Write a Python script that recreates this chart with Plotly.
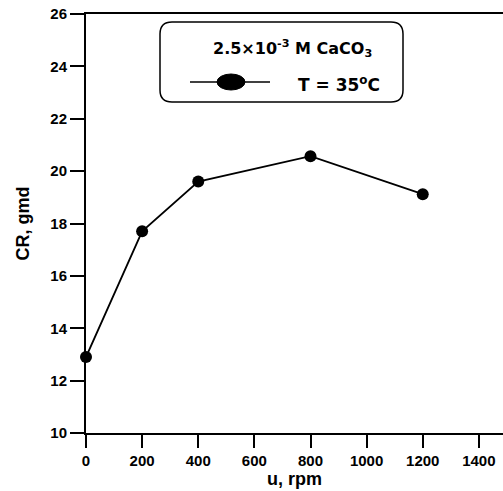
import plotly.graph_objects as go

speed_rpm = [0, 200, 400, 800, 1200]
cr_gmd = [12.9, 17.7, 19.6, 20.57, 19.12]
x_ticks = [0, 200, 400, 600, 800, 1000, 1200, 1400]
y_ticks = [10, 12, 14, 16, 18, 20, 22, 24, 26]

W, H = 503, 491
L, R, T, B = 86, 0, 14, 58
PW, PH = W - L - R, H - T - B

def px(x):
    return (x - L) / PW

def py(y):
    return (H - B - y) / PH

fig = go.Figure()
fig.add_trace(go.Scatter(
    x=speed_rpm, y=cr_gmd, mode="lines+markers",
    line=dict(color="black", width=1.8),
    marker=dict(color="black", size=12),
    showlegend=False, cliponaxis=False,
))

font = "Liberation Sans, Arial, sans-serif"
wide = "DejaVu Sans, Verdana, sans-serif"
axis_common = dict(
    showgrid=False, zeroline=False, showline=True, linecolor="black", linewidth=2,
    ticks="outside", tickwidth=2, tickcolor="black",
    tickfont=dict(family=font, size=15, color="black", weight="bold"),
)
fig.update_xaxes(range=[0, 1486], tickvals=x_ticks, mirror=True, ticklen=13,
                 title=dict(text="<b>u, rpm</b>", font=dict(family=font, size=18, color="black"), standoff=2),
                 **axis_common)
fig.update_yaxes(range=[10, 26], tickvals=y_ticks, ticklen=14,
                 title=dict(text="<b>CR, gmd</b>", font=dict(family=font, size=18, color="black"), standoff=16),
                 **axis_common)

# legend box (rounded)
x0, x1, y0, y1, r = px(160), px(403), py(22), py(102), 12
rx, ry = r / PW, r / PH
path = (f"M {x0+rx},{y0} L {x1-rx},{y0} Q {x1},{y0} {x1},{y0-ry} "
        f"L {x1},{y1+ry} Q {x1},{y1} {x1-rx},{y1} L {x0+rx},{y1} "
        f"Q {x0},{y1} {x0},{y1+ry} L {x0},{y0-ry} Q {x0},{y0} {x0+rx},{y0} Z")
shapes = [
    dict(type="path", path=path, xref="paper", yref="paper", line=dict(color="black", width=1.5), fillcolor="white"),
    dict(type="line", xref="paper", yref="paper", x0=px(190), x1=px(270), y0=py(82), y1=py(82), line=dict(color="black", width=1.5)),
    dict(type="circle", xref="paper", yref="paper", x0=px(217), x1=px(245), y0=py(74), y1=py(90), fillcolor="black", line=dict(color="black", width=1)),
]
annotations = [
    dict(text="<b>2.5×10<sup>-3</sup> M CaCO<sub>3</sub></b>", xref="paper", yref="paper", x=px(292), y=py(35),
         showarrow=False, font=dict(family=wide, size=16, color="black")),
    dict(text="<b>T = 35<sup>o</sup>C</b>", xref="paper", yref="paper", x=px(296), y=py(71), xanchor="left",
         showarrow=False, font=dict(family=wide, size=17, color="black")),
]

fig.update_layout(
    width=W, height=H, margin=dict(l=L, r=R, t=T, b=B),
    plot_bgcolor="white", paper_bgcolor="white",
    shapes=shapes, annotations=annotations,
)
fig.write_html("out.html")
